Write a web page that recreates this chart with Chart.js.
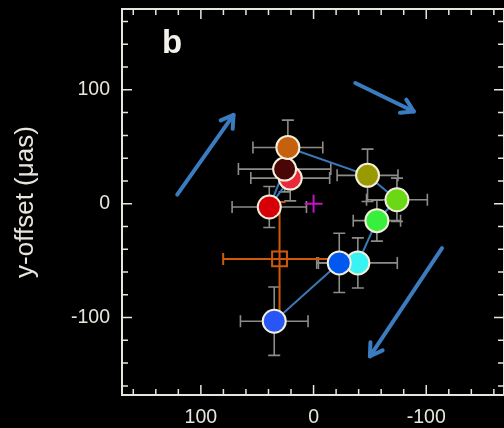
<!DOCTYPE html>
<html><head><meta charset="utf-8">
<script src="https://cdn.jsdelivr.net/npm/chart.js@4/dist/chart.umd.min.js"></script>
<style>html,body{margin:0;padding:0;background:#000;overflow:hidden}canvas{display:block}</style>
</head><body>
<canvas id="c" width="504" height="428" style="width:504px;height:428px"></canvas>
<script>
// Trajectory points in time order (x-offset, y-offset in µas)
const trackX    = [25.7, 39.3, 20.7, 22.8, -47.9, -74.0, -56.2, -39.3, -22.8, 34.9];
const trackY    = [30.4, -2.9, 22.5, 49.4, 24.9, 3.5, -14.9, -52.0, -52.0, -103.2];
const trackXErr = [41, 33, 35, 31, 27, 27, 21, 35, 20, 30];
const trackYErr = [20, 18, 20, 24, 23, 19, 18, 22, 26, 30];
// Drawing (stacking) order of the markers, indices into the arrays above
const markerOrder = [1, 2, 0, 3, 4, 5, 6, 7, 8, 9];
// Reference position (orange square) with errors
const refX = [30.2], refY = [-48.5], refXErr = [50], refYErr = [50];
// Origin marker
const originX = [0], originY = [0];
// Arrows: start and end points
const arrowX0 = [121, -37, -114], arrowY0 = [8, 106, -39];
const arrowX1 = [71, -89, -50],   arrowY1 = [78, 81, -134];
// Axis ticks
const xTicks = [100, 0, -100];
const yTicks = [100, 0, -100];
const minorStep = 20;
const panelLabel = 'b';
const yTitle = 'y-offset (\u03bcas)';

// styles
const markerColors = ['#4a0506', '#d80008', '#ea2a3c', '#c4600e', '#999a00', '#6ad814', '#38f03c', '#38f2f4', '#0058f0', '#2856f6'];
const fg = '#e8e6dc';
const lineBlue = '#3a78b8';
const arrowBlue = '#3b7cc0';

const trackPts = trackX.map((x, i) => ({x, y: trackY[i]}));
const markerPts = markerOrder.map(i => ({x: trackX[i], y: trackY[i]}));

const bgPlugin = {
  id: 'bg',
  beforeDraw(chart) {
    const c = chart.ctx; c.save(); c.fillStyle = '#000';
    c.fillRect(0, 0, chart.width, chart.height); c.restore();
  }
};

const framePlugin = {
  id: 'frame',
  afterDraw(chart) {
    const c = chart.ctx, a = chart.chartArea, xs = chart.scales.x, ys = chart.scales.y;
    c.save();
    c.strokeStyle = fg; c.lineWidth = 2;
    c.strokeRect(a.left, a.top, a.right - a.left, a.bottom - a.top);
    c.lineWidth = 1.5;
    for (let v = -160; v <= 160; v += minorStep) {
      const len = v % 100 === 0 ? 10 : 6;
      const px = xs.getPixelForValue(v);
      if (px > a.left + 1 && px < a.right - 1) {
        c.beginPath(); c.moveTo(px, a.bottom); c.lineTo(px, a.bottom - len);
        c.moveTo(px, a.top); c.lineTo(px, a.top + len); c.stroke();
      }
      const py = ys.getPixelForValue(v);
      if (py > a.top + 1 && py < a.bottom - 1) {
        c.beginPath(); c.moveTo(a.left, py); c.lineTo(a.left + len, py);
        c.moveTo(a.right, py); c.lineTo(a.right - len, py); c.stroke();
      }
    }
    c.fillStyle = '#f4f2ea';
    c.font = 'bold 33px "Liberation Sans", Arial, sans-serif';
    c.textBaseline = 'alphabetic'; c.textAlign = 'center';
    c.fillText(panelLabel, 172, 53);
    c.restore();
  }
};

function errBar(c, xs, ys, x, y, ex, ey, cap) {
  const px = xs.getPixelForValue(x), py = ys.getPixelForValue(y);
  const xl = xs.getPixelForValue(x + ex), xr = xs.getPixelForValue(x - ex);
  const yt = ys.getPixelForValue(y + ey), yb = ys.getPixelForValue(y - ey);
  c.beginPath();
  c.moveTo(xl, py); c.lineTo(xr, py);
  c.moveTo(xl, py - cap); c.lineTo(xl, py + cap);
  c.moveTo(xr, py - cap); c.lineTo(xr, py + cap);
  c.moveTo(px, yt); c.lineTo(px, yb);
  c.moveTo(px - cap, yt); c.lineTo(px + cap, yt);
  c.moveTo(px - cap, yb); c.lineTo(px + cap, yb);
  c.stroke();
}

const errPlugin = {
  id: 'err',
  beforeDatasetsDraw(chart) {
    const c = chart.ctx, xs = chart.scales.x, ys = chart.scales.y;
    c.save();
    c.strokeStyle = '#8c8c88'; c.lineWidth = 1.6;
    trackX.forEach((x, i) => errBar(c, xs, ys, x, trackY[i], trackXErr[i], trackYErr[i], 6));
    c.strokeStyle = '#d0580c'; c.lineWidth = 2;
    refX.forEach((x, i) => errBar(c, xs, ys, x, refY[i], refXErr[i], refYErr[i], 6));
    c.restore();
  }
};

const arrowHeadPlugin = {
  id: 'arrowheads',
  afterDatasetsDraw(chart) {
    const c = chart.ctx, xs = chart.scales.x, ys = chart.scales.y;
    c.save();
    c.strokeStyle = arrowBlue; c.lineWidth = 4; c.lineCap = 'round'; c.lineJoin = 'round';
    arrowX1.forEach((x, i) => {
      const x1 = xs.getPixelForValue(x), y1 = ys.getPixelForValue(arrowY1[i]);
      const x0 = xs.getPixelForValue(arrowX0[i]), y0 = ys.getPixelForValue(arrowY0[i]);
      const ang = Math.atan2(y1 - y0, x1 - x0), L = 14, sp = 0.55;
      c.beginPath();
      c.moveTo(x1 - L * Math.cos(ang - sp), y1 - L * Math.sin(ang - sp));
      c.lineTo(x1, y1);
      c.lineTo(x1 - L * Math.cos(ang + sp), y1 - L * Math.sin(ang + sp));
      c.stroke();
    });
    c.restore();
  }
};

const arrowSets = arrowX0.map((x, i) => ({
  type: 'line',
  data: [{x, y: arrowY0[i]}, {x: arrowX1[i], y: arrowY1[i]}],
  borderColor: arrowBlue, borderWidth: 4, pointRadius: 0, borderCapStyle: 'round',
  showLine: true, order: 5
}));

const tickFont = {family: '"Liberation Sans", Arial, sans-serif', size: 19.5};

new Chart(document.getElementById('c'), {
  type: 'scatter',
  data: {
    datasets: [
      {data: markerPts, pointRadius: 11.5, pointHoverRadius: 11.5,
       backgroundColor: markerOrder.map(i => markerColors[i]),
       borderColor: '#f4eeda', borderWidth: 2, showLine: false, order: 1},
      {data: refX.map((x, i) => ({x, y: refY[i]})), pointStyle: 'rect', pointRadius: 10.5,
       backgroundColor: 'rgba(0,0,0,0)', borderColor: '#d0580c', borderWidth: 2, order: 2},
      {data: originX.map((x, i) => ({x, y: originY[i]})), pointStyle: 'cross', pointRadius: 9,
       borderColor: '#c810c8', borderWidth: 2, order: 2},
      {type: 'line', data: trackPts, borderColor: lineBlue, borderWidth: 2, pointRadius: 0,
       showLine: true, tension: 0, order: 3},
      ...arrowSets
    ]
  },
  options: {
    responsive: false, animation: false, devicePixelRatio: 1,
    layout: {autoPadding: false, padding: {top: 9, right: 0, left: 0, bottom: 0}},
    plugins: {legend: {display: false}, tooltip: {enabled: false}},
    scales: {
      x: {
        type: 'linear', reverse: true, min: -169, max: 170,
        afterBuildTicks: s => { s.ticks = xTicks.map(v => ({value: v})); },
        afterFit: s => { s.height = 33; s.paddingLeft = 0; s.paddingRight = 0; },
        grid: {display: false, drawTicks: false}, border: {display: false},
        ticks: {color: fg, font: tickFont, padding: 11, maxRotation: 0}
      },
      y: {
        type: 'linear', min: -168, max: 171,
        afterBuildTicks: s => { s.ticks = yTicks.map(v => ({value: v})); },
        afterFit: s => { s.width = 122; s.paddingTop = 0; s.paddingBottom = 0; },
        grid: {display: false, drawTicks: false}, border: {display: false},
        ticks: {color: fg, font: tickFont, padding: 12},
        title: {display: true, text: yTitle, color: fg,
                font: {family: '"Liberation Sans", Arial, sans-serif', size: 26},
                padding: {top: 10, bottom: 0}}
      }
    }
  },
  plugins: [bgPlugin, errPlugin, arrowHeadPlugin, framePlugin]
});
</script></body></html>
